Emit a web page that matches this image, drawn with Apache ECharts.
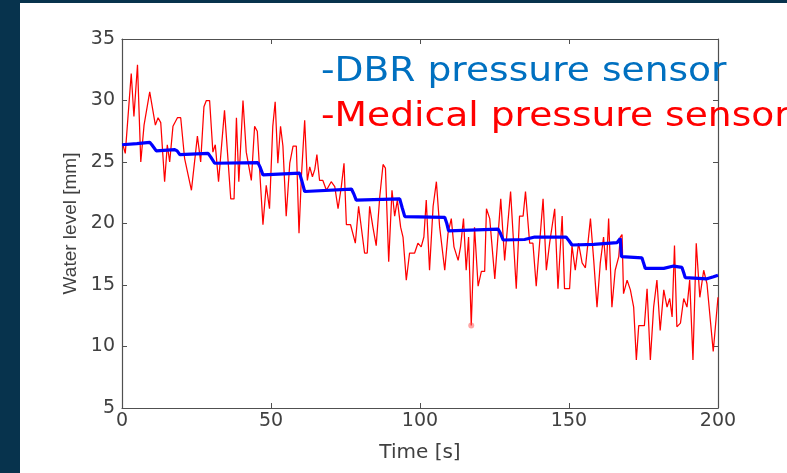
<!DOCTYPE html>
<html>
<head>
<meta charset="utf-8">
<script src="https://cdn.jsdelivr.net/npm/echarts@6/dist/echarts.min.js"></script>
<style>
  html, body { margin: 0; padding: 0; width: 787px; height: 473px; background: #07334d; overflow: hidden; }
  #chart { position: absolute; left: 20px; top: 3px; width: 767px; height: 470px; background: #ffffff; }
</style>
</head>
<body>
<div id="chart"></div>
<script>
// Time axis ticks [s] and water-level ticks [mm]
const xTicks = [0, 50, 100, 150, 200];
const yTicks = [5, 10, 15, 20, 25, 30, 35];

// Medical pressure sensor: [time s, water level mm]
const medicalSensor = [
  [0.3,26.4],[1.1,25.7],[3.1,32.2],[4.0,28.7],[5.2,32.9],[6.3,25.0],[7.4,28.0],[9.3,30.7],
  [11.2,28.0],[12.1,28.6],[13.0,28.2],[14.3,23.4],[15.2,26.4],[16.0,25.0],[17.1,27.9],[18.6,28.6],
  [19.7,28.6],[21.0,25.3],[23.3,22.7],[25.3,27.1],[26.4,25.0],[27.5,29.5],[28.3,30.0],[29.4,30.0],
  [30.5,25.8],[31.3,26.4],[32.4,23.4],[34.4,29.2],[36.5,22.0],[37.6,22.0],[38.4,28.6],[39.2,23.4],
  [40.6,30.0],[41.7,25.8],[43.4,23.5],[44.5,27.9],[45.4,27.5],[47.3,19.9],[48.4,23.1],[49.5,21.2],
  [50.6,27.9],[51.4,29.9],[52.3,24.9],[53.2,27.9],[54.0,26.3],[55.1,20.6],[56.3,24.9],[57.4,26.3],
  [58.5,26.3],[59.4,19.2],[60.2,23.8],[61.3,28.4],[62.2,23.5],[63.0,24.6],[63.9,23.8],[64.7,24.4],
  [65.4,25.6],[66.3,23.5],[67.4,23.5],[68.6,22.7],[70.2,23.4],[71.4,23.0],[72.5,21.2],[73.6,23.0],
  [74.5,24.9],[75.3,19.9],[76.7,19.9],[78.3,18.4],[79.4,21.4],[81.4,17.6],[82.3,17.6],[83.1,21.4],
  [84.2,19.7],[85.3,18.2],[86.5,22.2],[87.6,24.8],[88.4,24.5],[89.5,16.9],[90.6,22.7],[91.5,20.6],
  [92.4,21.9],[93.5,19.7],[94.3,18.9],[95.4,15.4],[96.5,17.6],[98.2,17.6],[99.3,18.4],[100.4,18.1],
  [101.3,18.9],[102.1,21.9],[103.2,16.2],[104.4,21.4],[105.5,23.4],[106.6,19.7],[108.3,16.2],[109.4,19.2],
  [110.5,20.4],[111.4,18.1],[112.8,17.0],[113.6,18.1],[114.6,20.4],[115.5,16.2],[116.3,18.9],[117.2,11.7],
  [118.3,19.7],[119.5,14.9],[120.6,16.1],[121.7,16.1],[122.3,21.2],[123.4,20.4],[125.1,15.5],[127.1,22.0],
  [128.4,17.0],[130.4,22.6],[132.3,14.7],[133.4,20.6],[134.6,20.6],[135.4,22.6],[136.8,18.4],[137.9,18.4],
  [139.0,14.9],[141.3,22.0],[142.4,16.2],[143.5,18.4],[145.2,21.2],[146.3,14.7],[147.7,20.6],[148.5,14.7],
  [150.2,14.7],[151.0,18.2],[152.1,16.2],[153.2,18.4],[154.4,16.8],[155.5,16.4],[157.2,20.4],[158.3,17.0],
  [159.4,13.2],[160.5,16.8],[161.6,18.9],[162.5,16.2],[163.3,20.4],[164.4,13.2],[165.5,16.2],[166.7,17.3],
  [167.2,18.9],[167.8,19.1],[168.3,14.3],[169.5,15.4],[170.6,14.6],[171.7,13.2],[172.6,8.9],[173.4,11.7],
  [175.3,11.7],[176.2,14.7],[177.3,8.9],[178.4,13.2],[179.5,15.4],[180.6,11.3],[181.8,14.6],[182.9,13.2],
  [183.8,13.9],[184.6,12.4],[185.4,18.2],[186.2,11.6],[187.4,11.9],[188.5,13.9],[189.6,13.2],[190.5,15.4],
  [191.6,8.9],[192.7,18.4],[193.9,14.0],[195.2,16.2],[196.3,15.1],[198.4,9.6],[200.0,14.0]
];

// DBR pressure sensor: [time s, water level mm]
const dbrSensor = [
  [0,26.4],[5,26.5],[9.3,26.6],[10,26.4],[11.5,25.9],[17.7,26.0],[18.5,25.9],[19.4,25.6],
  [28.9,25.7],[29.8,25.4],[31.1,24.9],[45.6,24.95],[46.3,24.6],[47.3,23.95],[59.6,24.1],[60.3,23.5],
  [61.3,22.6],[77,22.8],[77.8,22.4],[78.6,21.9],[93.2,22.0],[94.0,21.3],[94.9,20.56],[108.3,20.5],
  [109.0,20.0],[109.6,19.4],[126.2,19.55],[127.0,19.2],[127.9,18.66],[135.1,18.7],[138.5,18.9],[149.0,18.9],
  [150,18.6],[151,18.25],[158.3,18.3],[166.1,18.44],[167.2,18.79],[167.6,17.3],[174.5,17.2],[175.0,16.8],
  [175.6,16.35],[181.8,16.35],[185.1,16.54],[187.9,16.43],[188.5,16.0],[189,15.6],[196.3,15.5],[198.5,15.67],
  [200,15.8]
];

const legendLines = ['-DBR pressure sensor', '-Medical pressure sensor'];
const legendColors = ['#0070c0', '#ff0000'];

// the medical-sensor reading at this time is drawn with a dot
const markedTime = 117.2;
const markedReading = medicalSensor.filter(p => p[0] === markedTime);

const axisGrey = '#505050';
const labelGrey = '#404040';

const chart = echarts.init(document.getElementById('chart'), null, { renderer: 'canvas' });

const baseX = {
  type: 'value', min: xTicks[0], max: xTicks[xTicks.length - 1], interval: 50,
  splitLine: { show: false },
  axisLine: { show: true, onZero: false, lineStyle: { color: axisGrey, width: 1.2 } },
  axisTick: { show: true, inside: true, length: 5, lineStyle: { color: axisGrey } }
};
const baseY = {
  type: 'value', min: yTicks[0], max: yTicks[yTicks.length - 1], interval: 5,
  splitLine: { show: false },
  axisLine: { show: true, onZero: false, lineStyle: { color: axisGrey, width: 1.2 } },
  axisTick: { show: true, inside: true, length: 5, lineStyle: { color: axisGrey } }
};

chart.setOption({
  animation: false,
  grid: { left: 102, top: 36, right: 69, bottom: 65, containLabel: false },
  xAxis: [
    Object.assign({}, baseX, {
      position: 'bottom',
      axisLabel: { show: true, margin: 4, color: labelGrey, fontFamily: 'DejaVu Sans', fontSize: 19 },
      name: 'Time [s]', nameLocation: 'middle', nameGap: 35,
      nameTextStyle: { color: labelGrey, fontFamily: 'DejaVu Sans', fontSize: 20 }
    }),
    Object.assign({}, baseX, { position: 'top', axisLabel: { show: false } })
  ],
  yAxis: [
    Object.assign({}, baseY, {
      position: 'left',
      axisLabel: { show: true, margin: 7, color: labelGrey, fontFamily: 'DejaVu Sans', fontSize: 19 },
      name: 'Water level [mm]', nameLocation: 'middle', nameGap: 40,
      nameTextStyle: { color: labelGrey, fontFamily: 'Liberation Sans', fontSize: 19 }
    }),
    Object.assign({}, baseY, { position: 'right', axisLabel: { show: false } })
  ],
  series: [
    {
      name: legendLines[1], type: 'line', data: medicalSensor,
      showSymbol: false, symbol: 'none', z: 2,
      lineStyle: { color: '#ff0000', width: 1.25 }
    },
    {
      name: legendLines[0], type: 'line', data: dbrSensor,
      showSymbol: false, symbol: 'none', z: 3,
      lineStyle: { color: '#0000ff', width: 3.2 }
    },
    {
      type: 'scatter', data: markedReading, symbolSize: 6, z: 2,
      itemStyle: { color: 'rgba(255,70,70,0.6)' }
    }
  ],
  graphic: legendLines.map((t, i) => ({
    type: 'text', x: 301, y: 69 + i * 45, scaleX: 1.14, z: 10,
    style: {
      text: t, fill: legendColors[i],
      font: '33px "DejaVu Sans"', textVerticalAlign: 'middle', textAlign: 'left'
    }
  }))
});
</script>
</body>
</html>
